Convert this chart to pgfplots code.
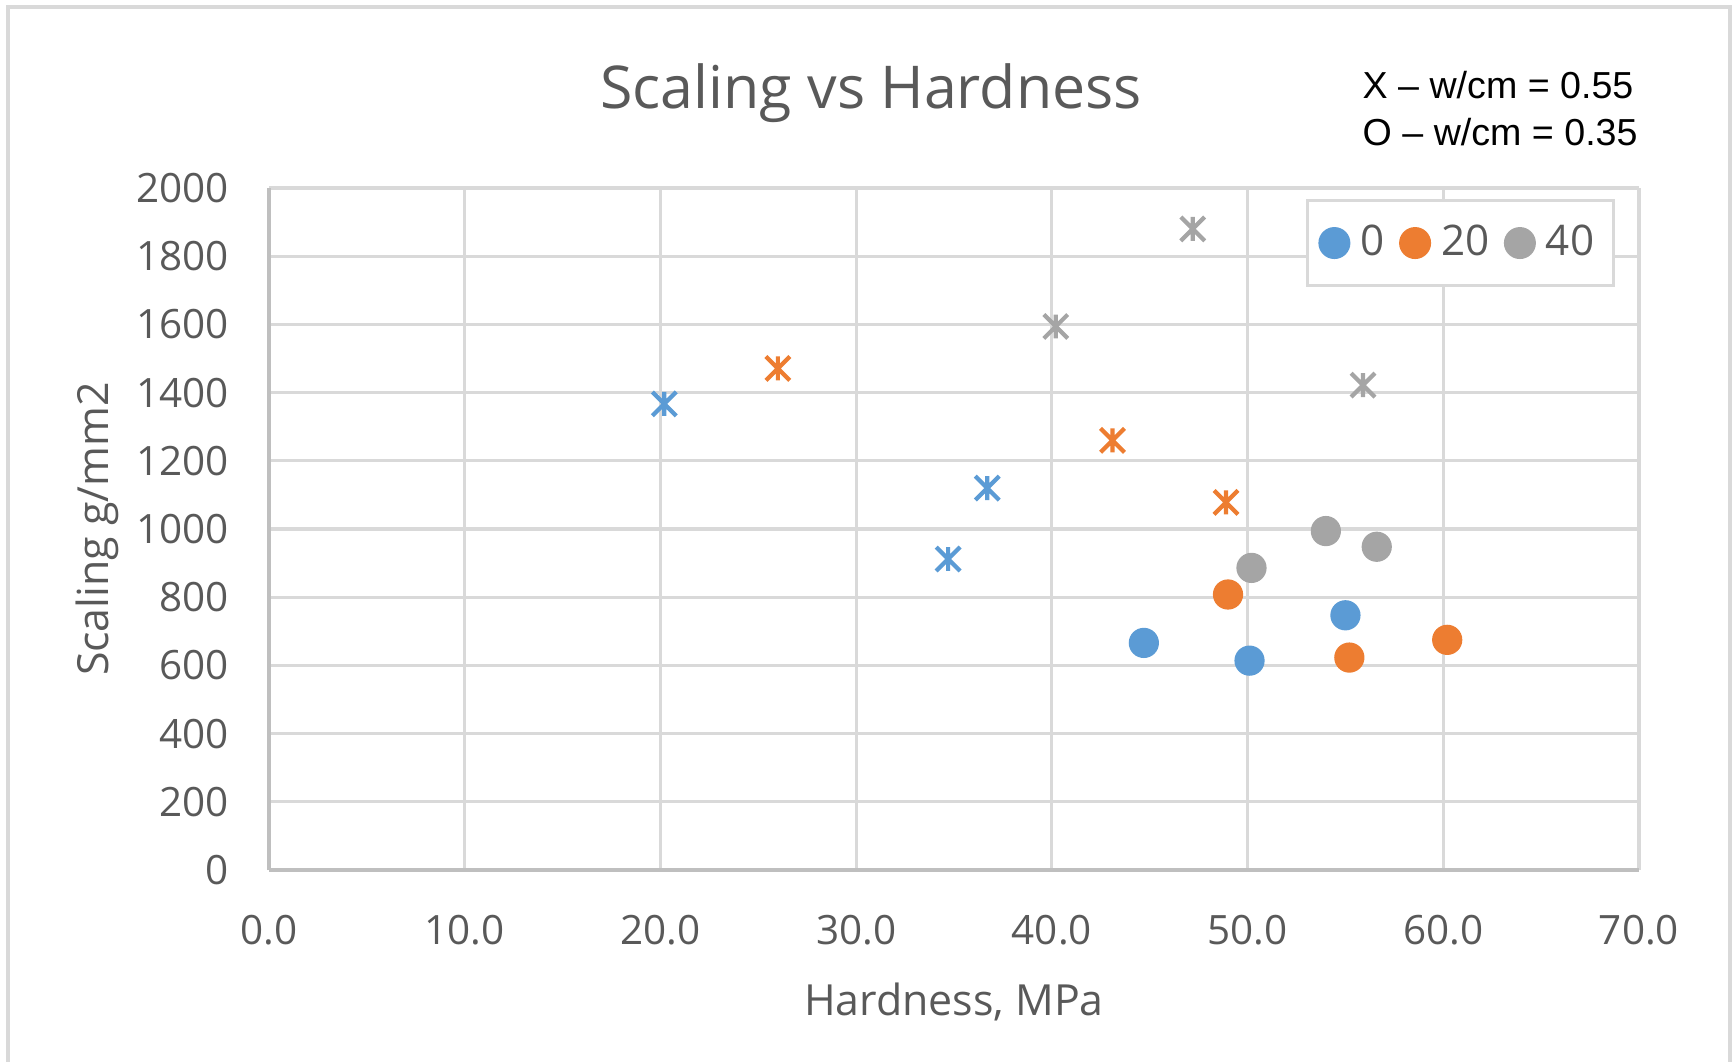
\documentclass[border=0pt]{standalone}
\usepackage{pgfplots}
\pgfplotsset{compat=1.18}
\usepackage{fontspec}
\setmainfont{Open Sans}
\newfontfamily\arialfont{Liberation Sans}

\definecolor{xlblue}{HTML}{5B9BD5}
\definecolor{xlorange}{HTML}{ED7D31}
\definecolor{xlgray}{HTML}{A5A5A5}
\definecolor{gridgray}{HTML}{D9D9D9}
\definecolor{axisgray}{HTML}{BFBFBF}
\definecolor{txtgray}{HTML}{595959}

% Excel-style star: an X with a vertical bar through it
\pgfdeclareplotmark{xlstar}{%
  \pgfpathmoveto{\pgfqpoint{-\pgfplotmarksize}{-\pgfplotmarksize}}%
  \pgfpathlineto{\pgfqpoint{\pgfplotmarksize}{\pgfplotmarksize}}%
  \pgfpathmoveto{\pgfqpoint{-\pgfplotmarksize}{\pgfplotmarksize}}%
  \pgfpathlineto{\pgfqpoint{\pgfplotmarksize}{-\pgfplotmarksize}}%
  \pgfpathmoveto{\pgfqpoint{0pt}{-\pgfplotmarksize}}%
  \pgfpathlineto{\pgfqpoint{0pt}{\pgfplotmarksize}}%
  \pgfusepathqstroke}

\begin{document}
\begin{tikzpicture}
\useasboundingbox (0,0) rectangle (17.36,10.61);
% outer chart frame
\draw[gridgray, line width=0.9pt] (0.08,-0.2) -- (0.08,10.54) -- (17.30,10.54) -- (17.30,-0.2);

\begin{axis}[
    at={(2.69cm,1.91cm)}, anchor=south west,
    scale only axis,
    width=13.70cm, height=6.82cm,
    xmin=0, xmax=70, ymin=0, ymax=2000,
    xtick={0,10,...,70}, ytick={0,200,...,2000},
    xticklabel={\pgfmathprintnumber[fixed,fixed zerofill,precision=1]{\tick}},
    yticklabel={\pgfmathprintnumber[fixed,1000 sep={}]{\tick}},
    /pgf/number format/assume math mode=true,
    scaled ticks=false,
    major tick length=0pt,
    axis lines=left,
    axis line style={-, axisgray, line width=0.9pt},
    grid=major,
    major grid style={gridgray, line width=0.9pt},
    tick label style={font=\fontsize{11.5}{13}\selectfont, text=txtgray},
    xticklabel style={yshift=-3.3mm},
    yticklabel style={xshift=-2.8mm},
    xlabel={Hardness, MPa},
    ylabel={Scaling g/mm2},
    label style={font=\fontsize{12.2}{14}\selectfont, text=txtgray},
    xlabel style={at={(axis description cs:0.5,-0.2126)}, anchor=base},
    ylabel style={at={(axis description cs:-0.1255,0.5)}, anchor=center, rotate=0},
    legend columns=3,
    legend style={at={(0.757,0.984)}, anchor=north west,
        draw=gridgray, line width=0.9pt, fill=white,
        font=\fontsize{12}{14}\selectfont, text=txtgray,
        inner xsep=3.5pt, inner ysep=5pt,
        /tikz/every odd column/.append style={column sep=1.3pt},
        /tikz/every even column/.append style={column sep=2.6pt}},
    legend cell align=left,
    clip=false,
]
% w/cm = 0.35 (circles)
\addplot[only marks, mark=*, mark size=4.1pt, color=xlblue]
  coordinates {(44.7,666) (50.1,614) (55.0,747)};
\addlegendentry{0}
\addplot[only marks, mark=*, mark size=4.1pt, color=xlorange]
  coordinates {(49.0,808) (55.2,623) (60.2,675)};
\addlegendentry{20}
\addplot[only marks, mark=*, mark size=4.1pt, color=xlgray]
  coordinates {(50.2,886) (54.0,994) (56.6,948)};
\addlegendentry{40}

% w/cm = 0.55 (stars)
\addplot[forget plot, only marks, mark=xlstar, mark size=3.4pt, mark options={xlblue, line width=1.2pt}]
  coordinates {(20.2,1367) (36.7,1120) (34.7,912)};
\addplot[forget plot, only marks, mark=xlstar, mark size=3.4pt, mark options={xlorange, line width=1.2pt}]
  coordinates {(26.0,1471) (43.1,1260) (48.9,1078)};
\addplot[forget plot, only marks, mark=xlstar, mark size=3.4pt, mark options={xlgray, line width=1.2pt}]
  coordinates {(47.2,1880) (40.2,1594) (55.9,1422)};
\end{axis}

\node[anchor=base, text=txtgray, font=\fontsize{16.8}{20}\selectfont] at (8.71,9.53) {Scaling vs Hardness};
\node[anchor=base west, inner sep=0pt, font=\arialfont\fontsize{10.7}{13}\selectfont] at (13.62,9.63) {X – w/cm = 0.55};
\node[anchor=base west, inner sep=0pt, font=\arialfont\fontsize{10.7}{13}\selectfont] at (13.62,9.16) {O – w/cm = 0.35};
\end{tikzpicture}
\end{document}
